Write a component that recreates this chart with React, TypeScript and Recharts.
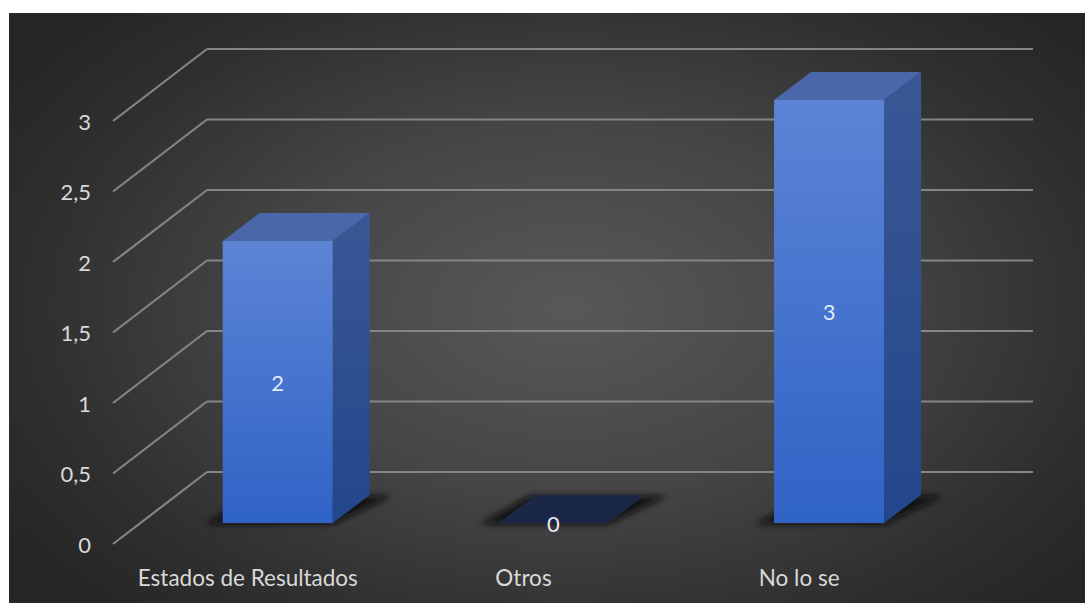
import React from 'react';
import { BarChart, Bar, XAxis, YAxis, CartesianGrid, LabelList } from 'recharts';

const categories = ['Estados de Resultados', 'Otros', 'No lo se'];
const values = [2, 0, 3];
const yTicks = [0, 0.5, 1, 1.5, 2, 2.5, 3];

const data = categories.map((name, i) => ({ name, value: values[i] }));

// 3D layout constants (style, not data)
const DEPTH_X = 37;
const DEPTH_Y = 28;
const FRONT_DY = 21;
const BACK_DY = -51;
const FRONT_X = 113;
const BACK_X = 207;
const BACK_RIGHT = 1033;
const LABEL_DX = -30;
const GRID = '#858585';
const TEXT = '#d9d9d9';
const FONT = 'Lato, "Noto Sans", sans-serif';

const GridLine = (props: any) => {
  const y = props.y1;
  return (
    <g key={props.key ?? `gl-${y}`}>
      <line x1={FRONT_X} y1={y + FRONT_DY} x2={BACK_X} y2={y + BACK_DY} stroke={GRID} strokeWidth={2.2} />
      <line x1={BACK_X} y1={y + BACK_DY} x2={BACK_RIGHT} y2={y + BACK_DY} stroke={GRID} strokeWidth={2.2} />
    </g>
  );
};

const YTick = (props: any) => {
  const { y, payload } = props;
  return (
    <text x={91} y={y + FRONT_DY} textAnchor="end" dominantBaseline="central" fill={TEXT} fontSize={22} fontFamily={FONT}>
      {String(payload.value).replace('.', ',')}
    </text>
  );
};

const XTick = (props: any) => {
  const { x, payload } = props;
  return (
    <text x={x + LABEL_DX} y={577} textAnchor="middle" dominantBaseline="central" fill={TEXT} fontSize={22.5} fontFamily={FONT}>
      {payload.value}
    </text>
  );
};

const Bar3D = (props: any) => {
  const { x, y, width: w, height: h, index } = props;
  const base = y + h;
  const dx = DEPTH_X;
  const dy = DEPTH_Y;
  const id = `b${index}`;
  const shadow = (
    <polygon
      points={`${x - 18},${base + 1} ${x + w},${base + 1} ${x + w + dx + 22},${base - dy + 1} ${x + dx - 6},${base - dy + 1}`}
      fill="#0a0a0a"
      opacity={0.9}
      filter={`url(#blur-${id})`}
    />
  );
  const defs = (
    <defs>
      <filter id={`blur-${id}`} x="-20%" y="-50%" width="140%" height="200%">
        <feGaussianBlur stdDeviation="3" />
      </filter>
      <linearGradient id={`front-${id}`} x1="0" y1="0" x2="0" y2="1">
        <stop offset="0%" stopColor="#5c84d5" />
        <stop offset="100%" stopColor="#2f63c6" />
      </linearGradient>
      <linearGradient id={`side-${id}`} x1="0" y1="0" x2="0" y2="1">
        <stop offset="0%" stopColor="#3a5795" />
        <stop offset="100%" stopColor="#23478b" />
      </linearGradient>
    </defs>
  );
  if (!h || h < 0.5) {
    return (
      <g>
        {defs}
        {shadow}
        <polygon
          points={`${x},${base} ${x + w},${base} ${x + w + dx},${base - dy} ${x + dx},${base - dy}`}
          fill="#1b2746"
        />
      </g>
    );
  }
  return (
    <g>
      {defs}
      {shadow}
      <polygon
        points={`${x},${y} ${x + w},${y} ${x + w + dx},${y - dy} ${x + dx},${y - dy}`}
        fill="#4a67aa"
      />
      <polygon
        points={`${x + w},${y} ${x + w + dx},${y - dy} ${x + w + dx},${base - dy} ${x + w},${base}`}
        fill={`url(#side-${id})`}
      />
      <rect x={x} y={y} width={w} height={h} fill={`url(#front-${id})`} />
    </g>
  );
};

const ValueLabel = (props: any) => {
  const { x, y, width, height, value } = props;
  const cx = x + width / 2;
  const cy = y + height / 2;
  return (
    <text x={cx} y={cy} textAnchor="middle" dominantBaseline="central" fill="#e2e9f7" fontSize={22} fontFamily={FONT}>
      {value}
    </text>
  );
};

export default function App() {
  return (
    <div style={{ position: 'absolute', left: 0, top: 0, width: 1085, height: 603, background: '#ffffff' }}>
      <div
        style={{
          position: 'absolute',
          left: 9,
          top: 13,
          width: 1076,
          height: 590,
          background: 'radial-gradient(ellipse 62% 70% at 52% 50%, #585858 0%, #454545 45%, #2f2f2f 80%, #262626 100%)',
        }}
      />
      <div style={{ position: 'absolute', left: 0, top: 0 }}>
        <BarChart
          width={1085}
          height={603}
          data={data}
          margin={{ top: 100, right: 118, bottom: 50, left: 80 }}
          barCategoryGap="30%"
        >
          <CartesianGrid horizontal={GridLine as any} vertical={false} />
          <XAxis dataKey="name" axisLine={false} tickLine={false} height={30} tick={<XTick />} interval={0} />
          <YAxis
            domain={[0, 3]}
            ticks={yTicks}
            axisLine={false}
            tickLine={false}
            width={60}
            tick={<YTick />}
          />
          <Bar dataKey="value" shape={<Bar3D />} isAnimationActive={false}>
            <LabelList dataKey="value" content={<ValueLabel />} />
          </Bar>
        </BarChart>
      </div>
    </div>
  );
}
